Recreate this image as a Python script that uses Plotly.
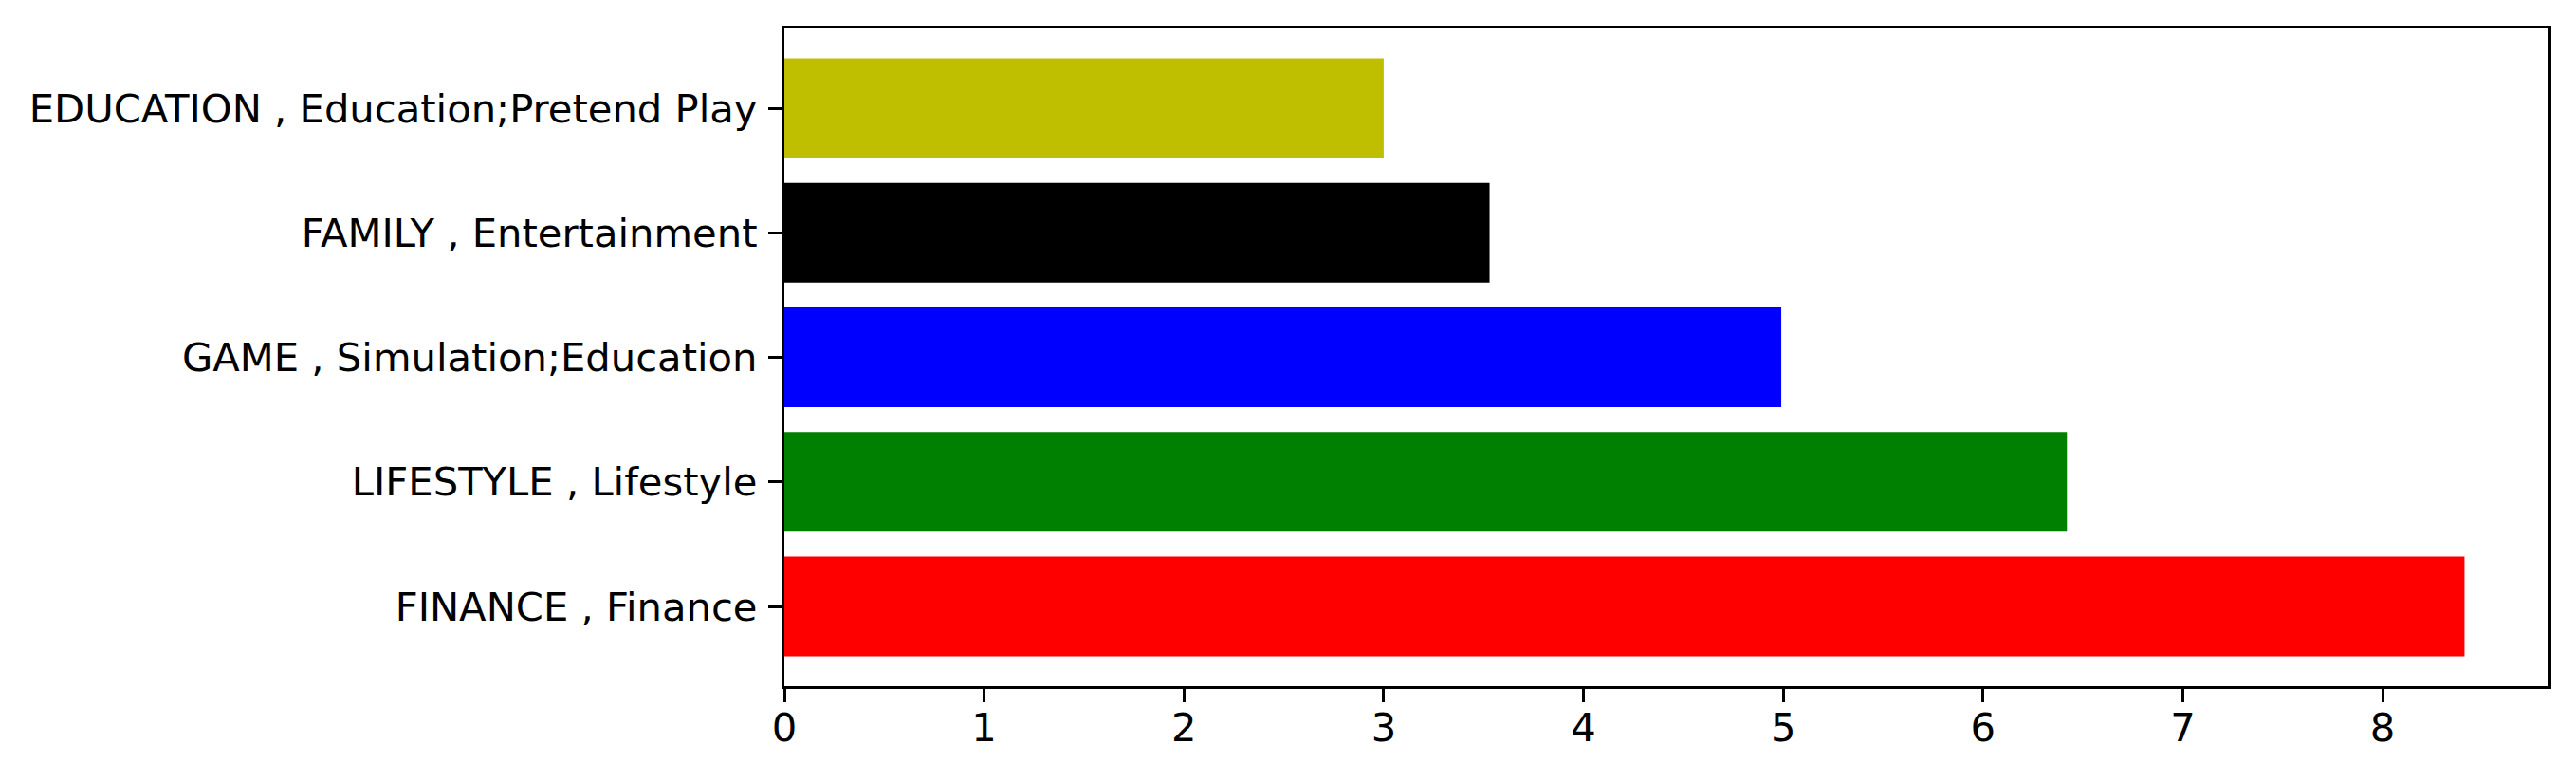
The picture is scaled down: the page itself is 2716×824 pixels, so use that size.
import plotly.graph_objects as go

categories = ["FINANCE , Finance", "LIFESTYLE , Lifestyle", "GAME , Simulation;Education",
              "FAMILY , Entertainment", "EDUCATION , Education;Pretend Play"]
values = [8.41, 6.42, 4.99, 3.53, 3.00]
colors = ["#ff0000", "#008000", "#0000ff", "#000000", "#bfbf00"]
x_ticks = [0, 1, 2, 3, 4, 5, 6, 7, 8]

FONT = "DejaVu Sans"
FS = 41.7
LW = 3.3

fig = go.Figure(go.Bar(
    x=values, y=list(range(len(categories))), orientation="h",
    marker=dict(color=colors, line=dict(width=0)), width=0.8,
))

xmax = max(values) * 1.05
fig.update_layout(
    width=2716, height=824,
    margin=dict(l=827, r=29, t=30, b=101, pad=0, autoexpand=False),
    plot_bgcolor="white", paper_bgcolor="white",
    showlegend=False,
    font=dict(family=FONT, size=FS, color="black"),
    xaxis=dict(range=[0, xmax], tickvals=x_ticks, ticktext=[str(t) for t in x_ticks],
               automargin=False,
               showgrid=False, zeroline=False, showline=True, linecolor="black",
               linewidth=LW, mirror=True, ticks="outside", ticklen=14, tickwidth=LW,
               tickcolor="black", tickfont=dict(family=FONT, size=FS), ticklabelstandoff=-9),
    yaxis=dict(range=[-0.64, 4.64], tickvals=list(range(len(categories))), ticktext=categories,
               automargin=False,
               showgrid=False, zeroline=False, showline=True, linecolor="black",
               linewidth=LW, mirror=True, ticks="outside", ticklen=14, tickwidth=LW,
               tickcolor="black", tickfont=dict(family=FONT, size=FS), ticklabelstandoff=3),
)

fig.write_html("out.html", config={"displayModeBar": False},
               post_script="document.body.style.margin='0';document.body.style.overflow='hidden';")
